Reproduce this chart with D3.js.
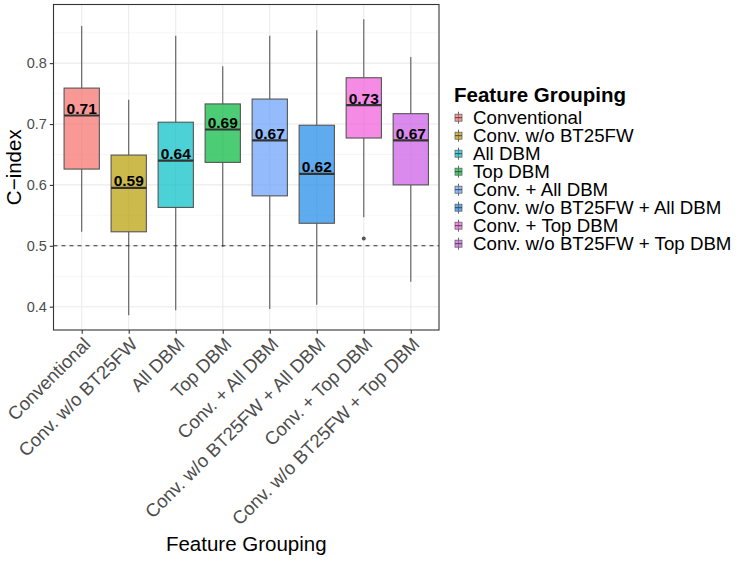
<!DOCTYPE html>
<html>
<head>
<meta charset="utf-8">
<script src="https://cdn.jsdelivr.net/npm/d3@7"></script>
<style>
  body { margin: 0; background: white; }
  svg { display: block; font-family: "Liberation Sans", Arial, sans-serif; }
</style>
</head>
<body>
<div id="chart"></div>
<script>
// data
const categories = ['Conventional', 'Conv. w/o BT25FW', 'All DBM', 'Top DBM',
    'Conv. + All DBM', 'Conv. w/o BT25FW + All DBM', 'Conv. + Top DBM', 'Conv. w/o BT25FW + Top DBM'];
const whiskerLow  = [0.523, 0.386, 0.394, 0.498, 0.396, 0.403, 0.547, 0.441];
const q1          = [0.626, 0.523, 0.563, 0.637, 0.582, 0.537, 0.677, 0.600];
const medians     = [0.714, 0.595, 0.640, 0.691, 0.673, 0.618, 0.731, 0.673];
const q3          = [0.759, 0.649, 0.703, 0.733, 0.741, 0.698, 0.776, 0.717];
const whiskerHigh = [0.861, 0.740, 0.845, 0.795, 0.845, 0.854, 0.872, 0.810];
const outliers    = [[], [], [], [], [], [], [0.512], []];
const medianLabels = ['0.71', '0.59', '0.64', '0.69', '0.67', '0.62', '0.73', '0.67'];
const colors = ['#F66E6A', '#B89C00', '#00BFC4', '#00B63A', '#669EFA', '#1A88E8', '#F25ADB', '#CA58E4'];
const yTicks = [0.4, 0.5, 0.6, 0.7, 0.8];
const yMinor = [0.45, 0.55, 0.65, 0.75, 0.85];
const refLine = 0.5;

const W = 747, H = 561;
const panel = {left: 53.5, right: 439, top: 4.5, bottom: 330};

const svg = d3.select('#chart').append('svg')
    .attr('width', W).attr('height', H);

// scales (ggplot style 5% expansion on y, 0.6 on discrete x)
const lo = d3.min(whiskerLow), hi = d3.max(whiskerHigh);
const pad = (hi - lo) * 0.05;
const y = d3.scaleLinear().domain([lo - pad, hi + pad]).range([panel.bottom, panel.top]);
const x = d3.scalePoint().domain(categories).range([panel.left, panel.right]).padding(0.6);
const boxW = x.step() * 0.75;

// panel background + grid
svg.append('rect')
    .attr('x', panel.left).attr('y', panel.top)
    .attr('width', panel.right - panel.left).attr('height', panel.bottom - panel.top)
    .attr('fill', 'white');

const grid = svg.append('g');
grid.selectAll('.minor').data(yMinor).enter().append('line')
    .attr('x1', panel.left).attr('x2', panel.right)
    .attr('y1', d => y(d)).attr('y2', d => y(d))
    .attr('stroke', '#f2f2f2').attr('stroke-width', 0.6);
grid.selectAll('.major').data(yTicks).enter().append('line')
    .attr('x1', panel.left).attr('x2', panel.right)
    .attr('y1', d => y(d)).attr('y2', d => y(d))
    .attr('stroke', '#ebebeb').attr('stroke-width', 1.1);
grid.selectAll('.vmajor').data(categories).enter().append('line')
    .attr('x1', d => x(d)).attr('x2', d => x(d))
    .attr('y1', panel.top).attr('y2', panel.bottom)
    .attr('stroke', '#ebebeb').attr('stroke-width', 1.1);

// boxplots
const boxes = svg.append('g').selectAll('g').data(categories).enter().append('g');

// whiskers
boxes.append('line')
    .attr('x1', d => x(d)).attr('x2', d => x(d))
    .attr('y1', (d, i) => y(whiskerHigh[i])).attr('y2', (d, i) => y(q3[i]))
    .attr('stroke', '#5a5a5a').attr('stroke-width', 1.1);
boxes.append('line')
    .attr('x1', d => x(d)).attr('x2', d => x(d))
    .attr('y1', (d, i) => y(q1[i])).attr('y2', (d, i) => y(whiskerLow[i]))
    .attr('stroke', '#5a5a5a').attr('stroke-width', 1.1);

boxes.append('rect')
    .attr('x', d => x(d) - boxW / 2)
    .attr('width', boxW)
    .attr('y', (d, i) => y(q3[i]))
    .attr('height', (d, i) => y(q1[i]) - y(q3[i]))
    .attr('fill', (d, i) => colors[i])
    .attr('fill-opacity', 0.7)
    .attr('stroke', '#555')
    .attr('stroke-width', 1.1);

boxes.append('line')
    .attr('x1', d => x(d) - boxW / 2).attr('x2', d => x(d) + boxW / 2)
    .attr('y1', (d, i) => y(medians[i])).attr('y2', (d, i) => y(medians[i]))
    .attr('stroke', '#333').attr('stroke-width', 2.2);

boxes.each(function(d, i) {
    d3.select(this).selectAll('circle').data(outliers[i]).enter().append('circle')
        .attr('cx', x(d)).attr('cy', v => y(v))
        .attr('r', 2).attr('fill', '#555');
});

// reference line at 0.5
svg.append('line')
    .attr('x1', panel.left).attr('x2', panel.right)
    .attr('y1', y(refLine)).attr('y2', y(refLine))
    .attr('stroke', '#333').attr('stroke-width', 1.1)
    .attr('stroke-dasharray', '4,4');

// median labels
boxes.append('text')
    .attr('x', d => x(d))
    .attr('y', (d, i) => y(medians[i]) - 1.5)
    .attr('text-anchor', 'middle')
    .style('font-size', '15.5px')
    .style('font-weight', 'bold')
    .attr('fill', 'black')
    .text((d, i) => medianLabels[i]);

// panel border
svg.append('rect')
    .attr('x', panel.left).attr('y', panel.top)
    .attr('width', panel.right - panel.left).attr('height', panel.bottom - panel.top)
    .attr('fill', 'none').attr('stroke', '#333').attr('stroke-width', 1.1);

// y axis
const yAxis = svg.append('g')
    .attr('transform', `translate(${panel.left},0)`)
    .call(d3.axisLeft(y).tickValues(yTicks).tickFormat(d3.format('.1f')).tickSize(3.7).tickPadding(3));
yAxis.select('.domain').remove();
yAxis.selectAll('line').attr('stroke', '#333').attr('stroke-width', 1.1);
yAxis.selectAll('text').attr('fill', '#4d4d4d').style('font-size', '14.5px')
    .attr('font-family', null);

// x axis
const xAxis = svg.append('g')
    .attr('transform', `translate(0,${panel.bottom})`)
    .call(d3.axisBottom(x).tickSize(3.7).tickPadding(3));
xAxis.select('.domain').remove();
xAxis.selectAll('line').attr('stroke', '#333').attr('stroke-width', 1.1);
xAxis.selectAll('text')
    .attr('fill', '#4d4d4d')
    .attr('font-family', null)
    .style('font-size', '18.5px')
    .style('text-anchor', 'end')
    .attr('y', 0).attr('dy', '0.72em')
    .attr('transform', 'translate(0,6) rotate(-45)');

// axis titles
svg.append('text')
    .attr('x', (panel.left + panel.right) / 2)
    .attr('y', 551)
    .attr('text-anchor', 'middle')
    .style('font-size', '20.5px')
    .text('Feature Grouping');

svg.append('text')
    .attr('transform', `translate(21,${(panel.top + panel.bottom) / 2}) rotate(-90)`)
    .attr('text-anchor', 'middle')
    .style('font-size', '20.5px')
    .text('C\u2212index');

// legend
const legend = svg.append('g').attr('transform', 'translate(454,0)');
legend.append('text')
    .attr('x', 0).attr('y', 101.5)
    .style('font-size', '20.5px').style('font-weight', 'bold')
    .text('Feature Grouping');

const items = legend.selectAll('.item').data(categories).enter().append('g')
    .attr('transform', (d, i) => `translate(0,${117.7 + i * 18})`);
items.append('line')
    .attr('x1', 4.5).attr('x2', 4.5).attr('y1', -6).attr('y2', 6)
    .attr('stroke', '#666').attr('stroke-width', 1);
items.append('rect')
    .attr('x', 1).attr('y', -3.5).attr('width', 7).attr('height', 7)
    .attr('fill', (d, i) => colors[i]).attr('fill-opacity', 0.7)
    .attr('stroke', '#666').attr('stroke-width', 0.8);
items.append('line')
    .attr('x1', 1).attr('x2', 8).attr('y1', 0).attr('y2', 0)
    .attr('stroke', '#444').attr('stroke-width', 1);
items.append('text')
    .attr('x', 19).attr('y', 0).attr('dy', '0.36em')
    .style('font-size', '18.7px')
    .attr('fill', 'black')
    .text(d => d);
</script>
</body>
</html>
